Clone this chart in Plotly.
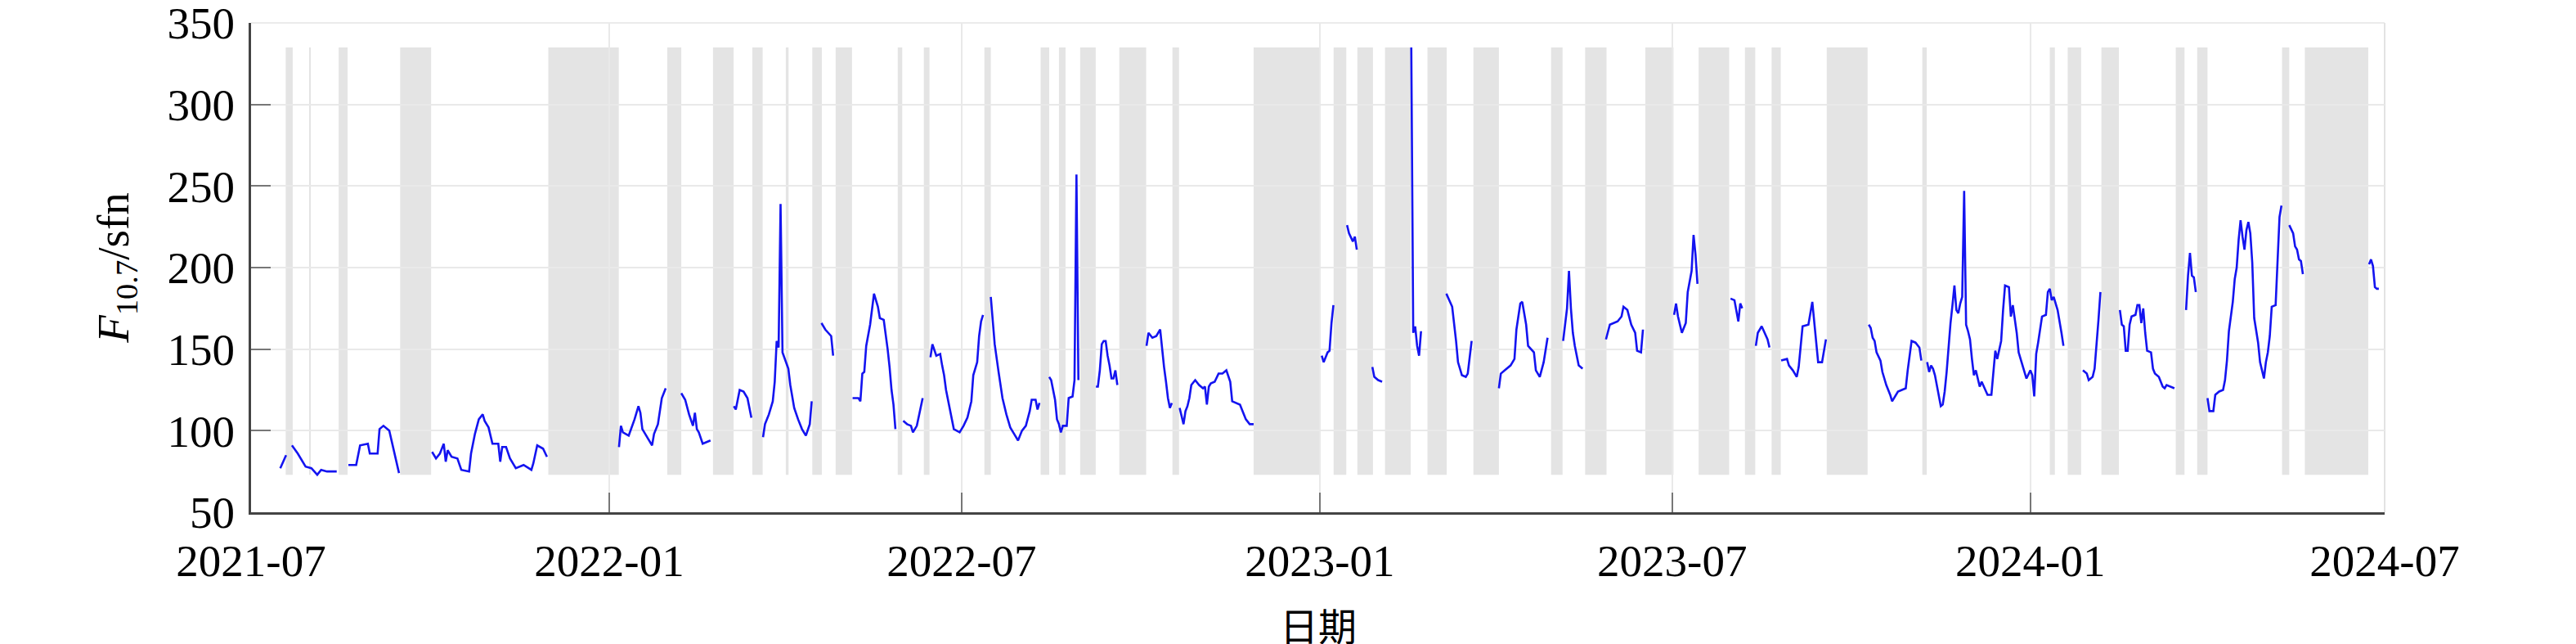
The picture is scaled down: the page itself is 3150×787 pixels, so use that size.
import pandas as pd
import plotly.graph_objects as go

BASE = pd.Timestamp("2021-07-01")

# Daily F10.7 readings (days since 2021-07-01); None marks a data gap
day_offset = [
    15, 17, 18, 19.5,
    21, 24, 28, 31, 34, 36, 39, 44, 47,
    50, 54, 56, 60, 61, 65, 66, 68, 71, 73, 75, 76, 84,
    93, 95, 97, 99, 100, 101, 103, 106, 108, 112, 113, 115, 117, 119, 120, 122, 124, 127, 128, 129,
    131, 133, 136, 140, 144, 145, 147, 150, 152, 170,
    189, 190, 191, 194, 197, 199, 200, 201, 204, 206, 207, 209, 211, 213, 217,
    221, 223, 225, 227, 228, 229, 230, 232, 234, 236, 242,
    248, 249, 251, 253, 255, 257, 260,
    263, 264, 266, 268, 269, 270, 271, 272, 273, 274, 276, 277, 279, 281, 283, 285, 287, 288, 290,
    293, 295, 298, 299, 304,
    309, 312, 313, 314, 315, 316, 318, 320, 322, 323, 325, 326, 327, 328, 329, 330, 331, 333,
    335, 337, 339, 340, 342, 344, 345, 347,
    349, 350, 352, 354, 355, 356, 357, 359, 361, 364, 366, 368, 370, 371, 373, 374, 375, 376, 378,
    380, 381, 382, 384, 386, 388, 390, 392, 394, 396, 398, 400, 401, 403, 404, 405, 408,
    410, 411, 413, 414, 415, 416, 417, 419, 420, 422, 423, 424, 425, 430,
    434, 435, 436, 437, 438, 439, 440, 441, 442, 443, 444, 445, 452,
    460, 461, 463, 465, 467, 468, 469, 470, 471, 472, 473, 475,
    477, 478, 479, 480, 481, 482, 483, 485, 487, 489, 490, 491, 492, 493, 495, 497, 499, 501, 502,
    503, 504, 506, 508, 509, 511, 513, 515, 530,
    550, 551, 553, 554, 555, 556, 559,
    563, 564, 566, 567, 568, 572,
    576, 577, 579, 581, 589,
    596, 597, 598, 599, 600, 601, 609,
    614, 616, 617, 619, 620, 622, 624, 625, 627, 634,
    641, 642, 644, 647, 649, 650, 652, 653, 655, 656, 659, 660, 662, 664, 666, 670,
    674, 675, 676, 677, 678, 679, 680, 682, 684, 690,
    696, 698, 702, 704, 705, 707, 709, 711, 712, 714, 715, 723,
    731, 732, 733, 735, 737, 738, 740, 741, 742, 743, 750,
    760, 762, 764, 765, 766, 770,
    773, 774, 776, 779, 780, 783,
    786, 789, 790, 792, 794, 795, 797, 800, 802, 803, 804, 805, 807, 809, 820,
    831, 832, 833, 834, 835, 837, 838, 840, 842, 843, 846, 850, 851, 852, 853, 855, 857, 858, 859.5,
    861, 862, 863, 864, 865, 866, 867, 868, 869, 870, 871, 872, 873, 874, 875, 876, 877, 878, 879,
    880, 881, 882, 883, 884, 885, 886, 888, 889, 891, 892, 894, 895, 896, 897, 898, 899, 900, 901,
    903, 904, 905, 907, 908, 910, 911, 912, 914, 915, 916, 917, 918, 920, 922, 923, 924, 925, 926,
    928, 930, 931, 936,
    941, 943, 944, 946, 947, 948, 949, 950, 955,
    960, 961, 962, 963, 964, 965, 966, 968, 969, 970, 971, 972, 973, 974, 976, 977, 978, 980, 982,
    983, 984, 986, 988, 991,
    994, 995, 996, 997, 998, 999, 1002,
    1005, 1006, 1008, 1009, 1011, 1013, 1014, 1015, 1016, 1017, 1018, 1019, 1020, 1021, 1022, 1023,
    1024, 1025, 1026, 1027, 1028, 1029, 1031, 1032, 1034, 1035, 1036, 1037, 1038, 1040, 1041, 1042,
    1043, 1045,
    1047, 1048, 1049, 1050, 1051, 1052, 1053, 1054, 1070,
    1088, 1089, 1090, 1091, 1092, 1093,
]
f107 = [
    77, 83, 85, None,
    91, 86, 78, 77, 73, 76, 75, 75, None,
    79, 79, 91, 92, 86, 86, 101, 103, 100, 90, 80, 74, None,
    87, 83, 86, 92, 81, 88, 84, 83, 76, 75, 86, 98, 107, 110, 106, 102, 92, 92, 81, 90,
    90, 83, 77, 79, 76, 80, 91, 89, 84, None,
    90, 103, 99, 97, 107, 115, 111, 101, 95, 91, 98, 104, 120, 126, None,
    123, 119, 110, 103, 111, 101, 99, 92, 93, 94, None,
    115, 113, 125, 124, 120, 108, None,
    96, 104, 110, 118, 130, 155, 151, 239, 148, 145, 138, 128, 114, 107, 101, 97, 104, 118, None,
    166, 162, 158, 146, None,
    120, 120, 118, 135, 136, 152, 165, 184, 176, 169, 168, 160, 150, 139, 125, 116, 101, None,
    106, 104, 103, 99, 103, 115, 120, None,
    145, 153, 146, 147, 140, 134, 125, 112, 101, 99, 103, 108, 118, 134, 142, 158, 167, 171, None,
    182, 166, 153, 136, 120, 110, 102, 98, 94, 100, 103, 112, 119, 119, 113, 117, None,
    133, 131, 119, 107, 104, 99, 103, 103, 120, 121, 131, 257, 131, None,
    127, 127, 137, 153, 155, 155, 146, 140, 132, 132, 137, 128, None,
    152, 160, 157, 158, 162, 149, 139, 130, 120, 114, 117, None,
    114, 109, 104, 112, 115, 120, 128, 131, 128, 126, 127, 116, 127, 129, 130, 135, 135, 137, 134,
    130, 118, 117, 116, 113, 107, 104, 104, None,
    146, 142, 148, 149, 166, 177, None,
    226, 221, 216, 219, 211, None,
    139, 133, 131, 130, None,
    335, 160, 164, 152, 146, 161, None,
    184, 178, 176, 155, 142, 134, 133, 135, 155, None,
    126, 135, 137, 140, 144, 162, 178, 179, 165, 152, 148, 137, 133, 142, 157, None,
    155, 165, 175, 198, 175, 160, 152, 140, 138, None,
    156, 165, 167, 170, 176, 174, 165, 160, 149, 148, 162, None,
    171, 178, 170, 160, 166, 185, 198, 220, 208, 190, None,
    181, 180, 167, 178, 175, None,
    152, 160, 164, 156, 151, None,
    143, 144, 140, 137, 133, 139, 164, 165, 179, 166, 155, 142, 142, 156, None,
    165, 163, 157, 155, 148, 143, 136, 128, 122, 118, 124, 126, 137, 145, 155, 154, 151, 143, None,
    142, 136, 140, 138, 134, 128, 121, 115, 116, 124, 136, 152, 166, 177, 189, 174, 172, 178, 182,
    247, 165, 161, 156, 144, 134, 137, 127, 130, 124, 122, 122, 136, 149, 144, 149, 155, 174, 189,
    188, 170, 177, 160, 148, 140, 137, 132, 137, 134, 121, 147, 154, 170, 171, 185, 187, 180, 182,
    174, 160, 152, None,
    137, 135, 131, 133, 138, 152, 168, 185, None,
    174, 165, 164, 149, 149, 165, 170, 171, 177, 177, 166, 175, 160, 149, 148, 138, 135, 133, 127,
    126, 128, 127, 126, None,
    174, 195, 209, 195, 194, 185, None,
    120, 112, 112, 122, 124, 125, 131, 143, 161, 170, 179, 193, 200, 217, 229, 219,
    211, 223, 228, 221, 203, 169, 154, 142, 132, 142, 148, 158, 176, 177, 207, 231,
    238, None,
    226, 223, 221, 213, 211, 205, 204, 196, None,
    202, 205, 201, 188, 187, 187,
]

# Data-gap intervals shaded in grey (days since 2021-07-01)
band_start_day = [17.8, 29.8, 45, 76.6, 152.7, 213.8, 237.3, 257.5, 274.7, 288.3, 300.3, 332.2,
                  345.6, 376.7, 405.6, 415, 425.9, 446, 473.3, 515, 556.1, 568.3, 582.5, 604.3,
                  627.9, 667.8, 685.3, 716.2, 743.6, 767.4, 781.1, 809.4, 858.5, 924, 933.2,
                  950.5, 988.7, 999.7, 1043.3, 1055]
band_end_day = [21.4, 30.7, 49.6, 92.5, 188.9, 221, 247.9, 262.8, 276.1, 293.2, 308.7, 334.5,
                348.5, 380, 410, 418.4, 433.9, 459.8, 476.7, 549.3, 562.6, 576.3, 595.7, 614.2,
                641, 673.7, 696.3, 730.7, 759.3, 772.7, 785.8, 830.4, 860.8, 926.6, 940.1,
                959.5, 993.2, 1005, 1047, 1087.6]

y_ticks = [50, 100, 150, 200, 250, 300, 350]

dates = BASE + pd.to_timedelta(day_offset, unit="D")
valid = [v for v in f107 if v is not None]
band_lo, band_hi = min(valid), max(valid)

fig = go.Figure()
for s, e in zip(band_start_day, band_end_day):
    fig.add_shape(type="rect", xref="x", yref="y",
                  x0=BASE + pd.Timedelta(days=s), x1=BASE + pd.Timedelta(days=e),
                  y0=band_lo, y1=band_hi, fillcolor="#e4e4e4", line_width=0, layer="below")

# light top and right frame lines
fig.add_shape(type="line", xref="paper", yref="paper", x0=0, x1=1, y0=1, y1=1,
              line=dict(color="#ebebeb", width=2), layer="below")
fig.add_shape(type="line", xref="paper", yref="paper", x0=1, x1=1, y0=0, y1=1,
              line=dict(color="#e3e3e3", width=2), layer="below")

fig.add_trace(go.Scatter(x=dates, y=f107, mode="lines", connectgaps=False,
                         line=dict(color="rgb(20,20,240)", width=2.6), showlegend=False))

serif = "Liberation Serif, Times New Roman, Noto Sans CJK SC, serif"
fig.update_layout(
    width=3150, height=787,
    margin=dict(l=299, r=242, t=20, b=169),
    paper_bgcolor="white", plot_bgcolor="white",
    font=dict(family=serif, size=55, color="black"),
)
fig.add_annotation(text="日期", xref="paper", yref="paper", x=0.5, y=-0.228,
                   xanchor="center", yanchor="middle", showarrow=False,
                   font=dict(family="Noto Sans CJK SC, serif", size=47, color="black"))
fig.update_xaxes(
    range=["2021-07-01", "2024-07-01"], tick0="2021-07-01", dtick="M6", tickformat="%Y-%m",
    showgrid=True, gridcolor="#e9e9e9", gridwidth=2, automargin=False,
    showline=True, linecolor="#444444", linewidth=3,
    ticks="inside", ticklen=24, tickwidth=2, tickcolor="#777777",
    ticklabelstandoff=9, ticklabeloverflow="allow",
)
fig.update_yaxes(
    range=[50, 350], tickvals=y_ticks, automargin=False,
    showgrid=True, gridcolor="#e9e9e9", gridwidth=2, zeroline=False,
    showline=True, linecolor="#444444", linewidth=3,
    ticks="inside", ticklen=24, tickwidth=2, tickcolor="#777777",
    ticklabelstandoff=6, ticklabeloverflow="allow",
    title=dict(text="<i>F</i><sub>10.7</sub>/sfn", font=dict(family=serif, size=55), standoff=30),
)
fig.write_html("out.html")
